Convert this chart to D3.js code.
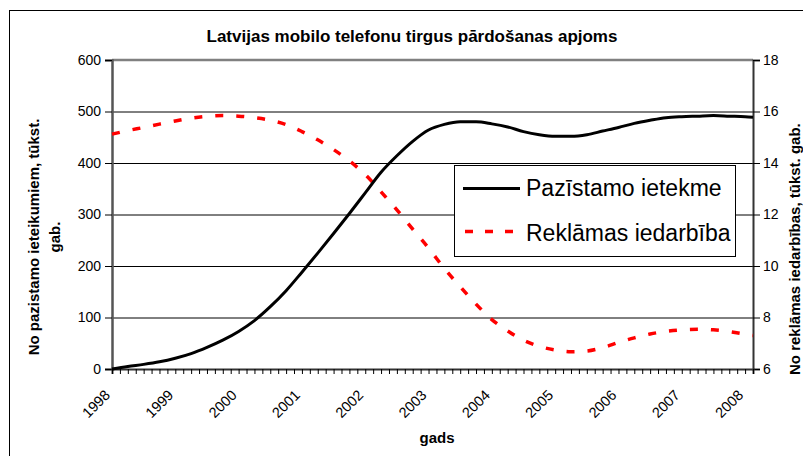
<!DOCTYPE html>
<html>
<head>
<meta charset="utf-8">
<script src="https://cdn.jsdelivr.net/npm/d3@7"></script>
<style>
  html, body { margin: 0; padding: 0; background: #fff; }
  svg { display: block; font-family: "Liberation Sans", Arial, sans-serif; }
</style>
</head>
<body>
<svg id="chart" width="803" height="456"></svg>
<script>
// ---- data ----
const years = [1998, 1998.25, 1998.5, 1998.75, 1999, 1999.25, 1999.5, 1999.75,
  2000, 2000.25, 2000.5, 2000.75, 2001, 2001.25, 2001.5, 2001.75,
  2002, 2002.25, 2002.5, 2002.75, 2003, 2003.25, 2003.5, 2003.75,
  2004, 2004.25, 2004.5, 2004.75, 2005, 2005.25, 2005.5, 2005.75,
  2006, 2006.25, 2006.5, 2006.75, 2007, 2007.25, 2007.5, 2007.75,
  2008, 2008.125];
const pazistamo = [0, 5, 9, 14, 21, 30, 42, 56,
  73, 94, 121, 152, 188, 225, 263, 302,
  342, 382, 414, 442, 464, 475, 480, 480,
  476, 470, 461, 455, 452, 452, 455, 462,
  469, 477, 483, 488, 490, 491, 492, 491,
  490, 489];
const reklamas = [15.12, 15.26, 15.38, 15.51, 15.63, 15.74, 15.81, 15.84,
  15.82, 15.76, 15.66, 15.49, 15.22, 14.90, 14.52, 14.08,
  13.55, 12.88, 12.18, 11.43, 10.70, 9.90, 9.20, 8.52,
  7.92, 7.48, 7.12, 6.88, 6.74, 6.67, 6.70, 6.83,
  7.03, 7.21, 7.36, 7.46, 7.52, 7.54, 7.52, 7.45,
  7.35, 7.30];
const yearLabels = ["1998", "1999", "2000", "2001", "2002", "2003", "2004", "2005", "2006", "2007", "2008"];
const leftTicks = [0, 100, 200, 300, 400, 500, 600];
const rightTicks = [6, 8, 10, 12, 14, 16, 18];
const seriesNames = ["Pazīstamo ietekme", "Reklāmas iedarbība"];
const titleText = "Latvijas mobilo telefonu tirgus pārdošanas apjoms";

// ---- layout ----
const L = 112, R = 753, T = 60, B = 369;
const svg = d3.select("#chart");

const x = d3.scaleLinear().domain([1998, 2008.125]).range([L, R]);
const yL = d3.scaleLinear().domain([0, 600]).range([B, T]);
const yR = d3.scaleLinear().domain([6, 18]).range([B, T]);

// outer frame
svg.append("rect").attr("x", 9.5).attr("y", 10.5).attr("width", 820).attr("height", 470)
  .attr("fill", "none").attr("stroke", "#000").attr("stroke-width", 1);

// title
svg.append("text").attr("x", 412).attr("y", 42).attr("text-anchor", "middle")
  .attr("font-size", 17).attr("font-weight", "bold").text(titleText);

// gridlines
svg.append("g").selectAll("line").data(leftTicks.filter(d => d > 0 && d < 600)).join("line")
  .attr("x1", L).attr("x2", R).attr("y1", d => yL(d) + 0.5).attr("y2", d => yL(d) + 0.5)
  .attr("stroke", "#000").attr("stroke-width", 1);

// plot area border (top gray)
svg.append("line").attr("x1", L).attr("x2", R).attr("y1", T).attr("y2", T)
  .attr("stroke", "#808080").attr("stroke-width", 2.5);

// left axis
const gL = svg.append("g").attr("transform", `translate(${L},0)`)
  .call(d3.axisLeft(yL).tickValues(leftTicks).tickSize(7).tickPadding(4).tickFormat(d3.format("d")));
gL.select(".domain").attr("stroke", "#555").attr("stroke-width", 2.5);
gL.selectAll(".tick line").attr("stroke", "#000");
gL.selectAll(".tick text").attr("font-size", 14).attr("font-family", "Liberation Sans, Arial, sans-serif").attr("fill", "#000");

// right axis
const gR = svg.append("g").attr("transform", `translate(${R},0)`)
  .call(d3.axisRight(yR).tickValues(rightTicks).tickSize(7).tickPadding(3).tickFormat(d3.format("d")));
gR.select(".domain").attr("stroke", "#333").attr("stroke-width", 2);
gR.selectAll(".tick line").attr("stroke", "#000");
gR.selectAll(".tick text").attr("font-size", 14).attr("font-family", "Liberation Sans, Arial, sans-serif").attr("fill", "#000");

// bottom axis (minor ticks every 1/8 year)
const minorTicks = d3.range(0, 82).map(i => 1998 + i * 0.125);
const gB = svg.append("g").attr("transform", `translate(0,${B})`)
  .call(d3.axisBottom(x).tickValues(minorTicks).tickSize(5).tickFormat(""));
gB.select(".domain").attr("stroke", "#333").attr("stroke-width", 2);
gB.selectAll(".tick line").attr("stroke", "#000");

// year labels, rotated
svg.append("g").selectAll("text").data(yearLabels).join("text")
  .attr("transform", d => `translate(${x(+d) - 1},${B + 27}) rotate(-45)`)
  .attr("text-anchor", "end").attr("font-size", 14.5).text(d => d);

// axis titles
svg.append("text").attr("x", 437).attr("y", 443).attr("text-anchor", "middle")
  .attr("font-size", 15).attr("font-weight", "bold").text("gads");
svg.append("text").attr("transform", "translate(39,237) rotate(-90)").attr("text-anchor", "middle")
  .attr("font-size", 15).attr("font-weight", "bold").text("No pazistamo ieteikumiem, tūkst.");
svg.append("text").attr("transform", "translate(60,237) rotate(-90)").attr("text-anchor", "middle")
  .attr("font-size", 15).attr("font-weight", "bold").text("gab.");
svg.append("text").attr("transform", "translate(800,375) rotate(-90)").attr("text-anchor", "start")
  .attr("font-size", 15).attr("font-weight", "bold").text("No reklāmas iedarbības, tūkst. gab.");

// lines
const lineL = d3.line().x((d, i) => x(years[i])).y(d => yL(d)).curve(d3.curveMonotoneX);
const lineR = d3.line().x((d, i) => x(years[i])).y(d => yR(d)).curve(d3.curveMonotoneX);
svg.append("path").attr("d", lineR(reklamas)).attr("fill", "none")
  .attr("stroke", "#ff0000").attr("stroke-width", 3.5).attr("stroke-dasharray", "8,13");
svg.append("path").attr("d", lineL(pazistamo)).attr("fill", "none")
  .attr("stroke", "#000").attr("stroke-width", 3);

// legend
const lg = svg.append("g");
lg.append("rect").attr("x", 454.5).attr("y", 165.5).attr("width", 281).attr("height", 91)
  .attr("fill", "#fff").attr("stroke", "#000").attr("stroke-width", 1);
lg.append("line").attr("x1", 463).attr("x2", 520).attr("y1", 188.5).attr("y2", 188.5)
  .attr("stroke", "#000").attr("stroke-width", 3);
lg.append("line").attr("x1", 465).attr("x2", 514).attr("y1", 231.5).attr("y2", 231.5)
  .attr("stroke", "#ff0000").attr("stroke-width", 3.5).attr("stroke-dasharray", "8,12");
lg.selectAll("text").data(seriesNames).join("text")
  .attr("x", 526).attr("y", (d, i) => i === 0 ? 196 : 241)
  .attr("font-size", 23).text(d => d);
</script>
</body>
</html>
